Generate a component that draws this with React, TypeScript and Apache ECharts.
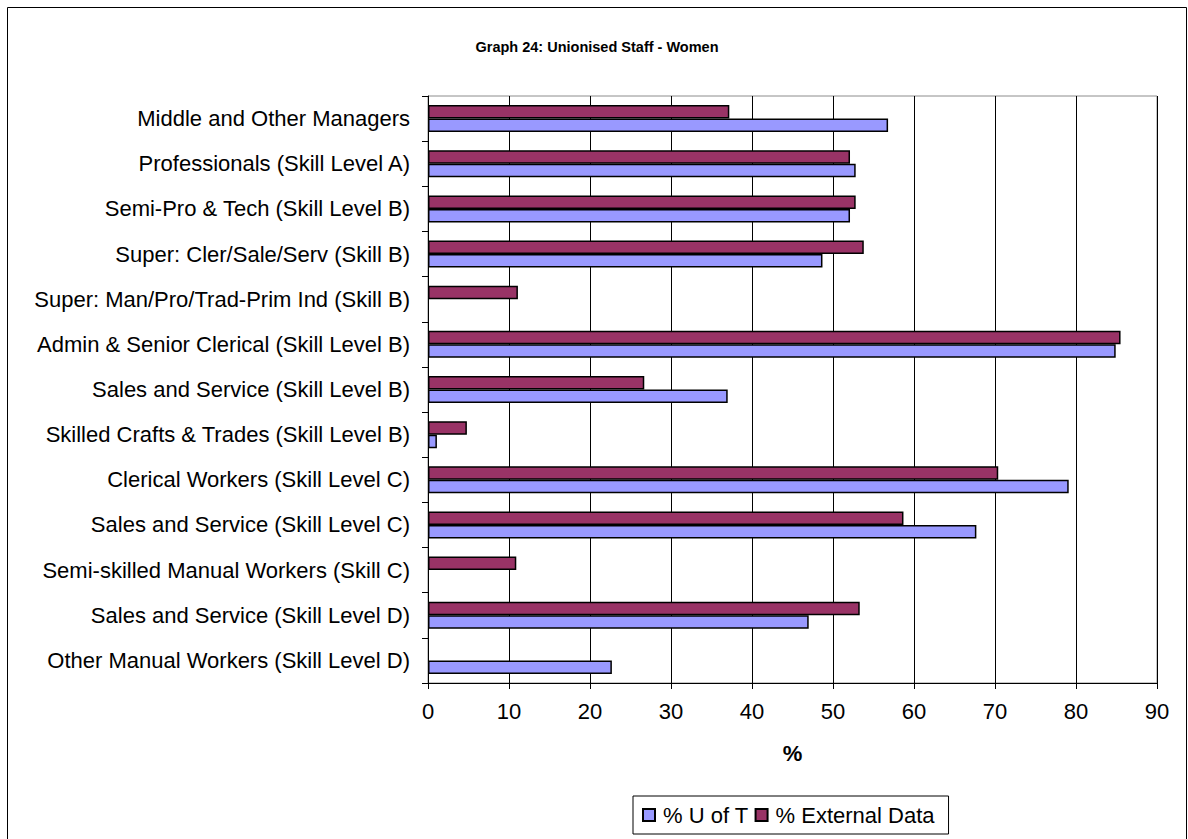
import React, { useEffect, useRef } from "react";
import * as echarts from "echarts";

const categories = [
  "Middle and Other Managers",
  "Professionals (Skill Level A)",
  "Semi-Pro & Tech (Skill Level B)",
  "Super: Cler/Sale/Serv (Skill B)",
  "Super: Man/Pro/Trad-Prim Ind (Skill B)",
  "Admin & Senior Clerical (Skill Level B)",
  "Sales and Service (Skill Level B)",
  "Skilled Crafts & Trades (Skill Level B)",
  "Clerical Workers (Skill Level C)",
  "Sales and Service (Skill Level C)",
  "Semi-skilled Manual Workers (Skill C)",
  "Sales and Service (Skill Level D)",
  "Other Manual Workers (Skill Level D)",
];

const uOfT: (number | null)[] = [56.8, 52.8, 52.1, 48.7, null, 84.9, 37.0, 1.1, 79.1, 67.7, null, 47.0, 22.7];
const external: (number | null)[] = [37.2, 52.1, 52.8, 53.8, 11.1, 85.5, 26.7, 4.8, 70.4, 58.7, 10.9, 53.3, null];

const xTicks = { min: 0, max: 90, interval: 10 };

const FONT = "'Liberation Sans', Arial, sans-serif";

export default function App() {
  const ref = useRef<HTMLDivElement>(null);
  useEffect(() => {
    if (!ref.current) return;
    const chart = echarts.init(ref.current, undefined, { renderer: "svg" });
    chart.setOption({
      animation: false,
      backgroundColor: "#ffffff",
      textStyle: { fontFamily: FONT },
      graphic: [
        {
          type: "rect",
          shape: { x: 7.5, y: 7.5, width: 1179, height: 850 },
          style: { fill: "none", stroke: "#000", lineWidth: 1 },
          silent: true,
        },
        {
          type: "text",
          x: 597,
          y: 47,
          style: {
            text: "Graph 24: Unionised Staff - Women",
            fontFamily: FONT,
            fontWeight: "bold",
            fontSize: 14.5,
            fill: "#000",
            align: "center",
            verticalAlign: "middle",
          },
        },
      ],
      legend: {
        data: ["% U of T", "% External Data"],
        left: 633,
        top: 796,
        orient: "horizontal",
        padding: [8, 14, 8, 9],
        itemGap: 6,
        itemWidth: 12,
        itemHeight: 12,
        borderColor: "#000",
        borderWidth: 1,
        icon: "rect",
        textStyle: { fontFamily: FONT, fontSize: 22, color: "#000", padding: [0, 0, 0, 3] },
      },
      grid: {
        left: 428,
        top: 96,
        width: 729,
        height: 587,
        show: true,
        borderColor: "#8c8c8c",
        borderWidth: 1,
        backgroundColor: "#fff",
      },
      xAxis: {
        type: "value",
        min: xTicks.min,
        max: xTicks.max,
        interval: xTicks.interval,
        name: "%",
        nameLocation: "middle",
        nameGap: 59,
        nameTextStyle: { fontFamily: FONT, fontSize: 22, fontWeight: "bold", color: "#000" },
        axisLine: { show: true, lineStyle: { color: "#000", width: 1 } },
        axisTick: { show: true, inside: false, length: 6, lineStyle: { color: "#000" } },
        axisLabel: { fontFamily: FONT, fontSize: 22, color: "#000", margin: 17 },
        splitLine: { show: true, lineStyle: { color: "#000", width: 1 } },
      },
      yAxis: {
        type: "category",
        data: categories,
        inverse: true,
        axisLine: { show: true, lineStyle: { color: "#000", width: 1 } },
        axisTick: { show: true, inside: false, length: 6, lineStyle: { color: "#000" } },
        axisLabel: { fontFamily: FONT, fontSize: 22, color: "#000", margin: 18 },
        splitLine: { show: false },
      },
      series: [
        {
          name: "% External Data",
          type: "bar",
          data: external,
          barWidth: 13.5,
          barGap: "0%",
          itemStyle: { color: "#993366", borderColor: "#000", borderWidth: 1.5 },
        },
        {
          name: "% U of T",
          type: "bar",
          data: uOfT,
          barWidth: 13.5,
          barGap: "0%",
          itemStyle: { color: "#9999ff", borderColor: "#000", borderWidth: 1.5 },
        },
      ],
    });
    return () => chart.dispose();
  }, []);
  return (
    <div
      ref={ref}
      style={{ position: "fixed", left: 0, top: 0, width: 1188, height: 839 }}
    />
  );
}
